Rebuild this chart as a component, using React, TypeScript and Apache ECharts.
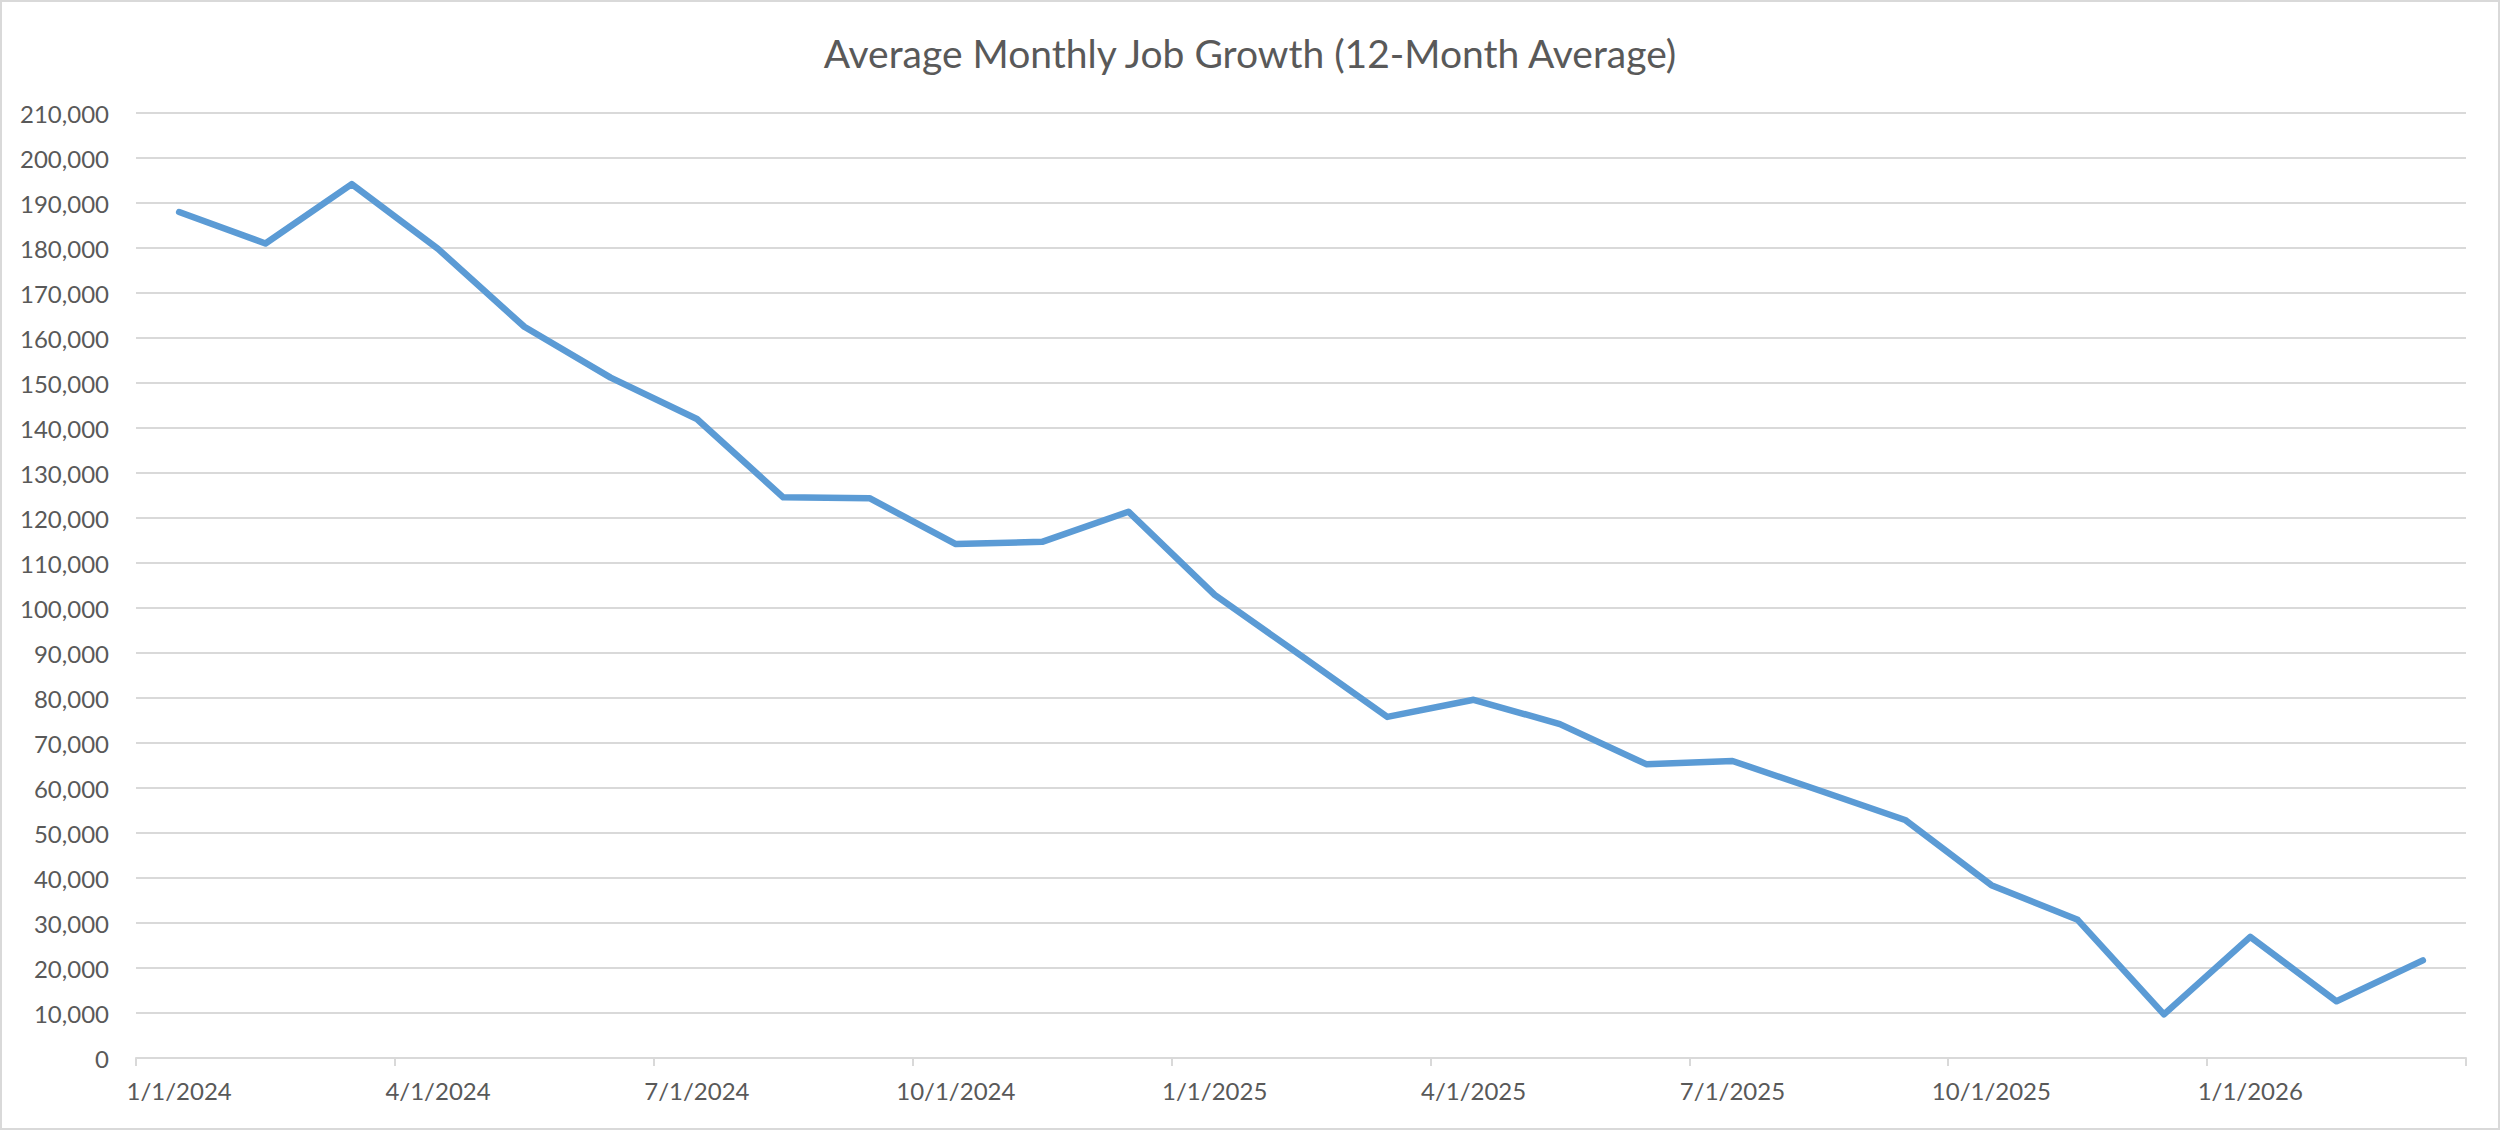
import React, { useEffect, useRef } from "react";
import * as echarts from "echarts";

const TITLE = "Average Monthly Job Growth (12-Month Average)";

const months = [
  "1/1/2024", "2/1/2024", "3/1/2024", "4/1/2024", "5/1/2024", "6/1/2024",
  "7/1/2024", "8/1/2024", "9/1/2024", "10/1/2024", "11/1/2024", "12/1/2024",
  "1/1/2025", "2/1/2025", "3/1/2025", "4/1/2025", "5/1/2025", "6/1/2025",
  "7/1/2025", "8/1/2025", "9/1/2025", "10/1/2025", "11/1/2025", "12/1/2025",
  "1/1/2026", "2/1/2026", "3/1/2026",
];

const jobGrowth = [
  188000, 181000, 194200, 179800, 162500, 151200,
  142000, 124600, 124400, 114200, 114700, 121400,
  102900, 89400, 75800, 79600, 74200, 65300,
  66000, 59500, 52900, 38400, 30700, 9700,
  26900, 12600, 21700,
];

const Y_MIN = 0;
const Y_MAX = 210000;
const Y_STEP = 10000;

const FONT = "Lato, 'Open Sans', sans-serif";
const TEXT_COLOR = "#595959";
const GRID_COLOR = "#d9d9d9";
const LINE_COLOR = "#5b9bd5";

export default function App() {
  const ref = useRef<HTMLDivElement>(null);

  useEffect(() => {
    document.body.style.margin = "0";
    if (!ref.current) return;
    const chart = echarts.init(ref.current, null, { renderer: "svg" });
    chart.setOption({
      animation: false,
      backgroundColor: "#ffffff",
      title: {
        text: TITLE,
        left: "center",
        top: 28,
        textStyle: {
          fontFamily: FONT,
          fontSize: 39,
          fontWeight: 400,
          color: TEXT_COLOR,
        },
      },
      graphic: [
        {
          type: "rect",
          shape: { x: 1, y: 1, width: 2498, height: 1128 },
          style: { fill: "none", stroke: GRID_COLOR, lineWidth: 2 },
          silent: true,
        },
      ],
      grid: { left: 136, right: 34, top: 113, bottom: 72, containLabel: false },
      xAxis: {
        type: "category",
        data: months,
        boundaryGap: true,
        axisLine: { show: true, lineStyle: { color: GRID_COLOR, width: 2 } },
        axisTick: {
          show: true,
          interval: 2,
          alignWithLabel: false,
          length: 8,
          lineStyle: { color: GRID_COLOR, width: 2 },
        },
        axisLabel: {
          interval: 2,
          margin: 20,
          fontFamily: FONT,
          fontSize: 24,
          color: TEXT_COLOR,
        },
        splitLine: { show: false },
      },
      yAxis: {
        type: "value",
        min: Y_MIN,
        max: Y_MAX,
        interval: Y_STEP,
        axisLine: { show: false },
        axisTick: { show: false },
        axisLabel: {
          margin: 27,
          fontFamily: FONT,
          fontSize: 24,
          color: TEXT_COLOR,
          formatter: (v: number) => v.toLocaleString("en-US"),
        },
        splitLine: { show: true, lineStyle: { color: GRID_COLOR, width: 2 } },
      },
      series: [
        {
          type: "line",
          data: jobGrowth,
          showSymbol: false,
          symbol: "none",
          lineStyle: { color: LINE_COLOR, width: 6.5, cap: "round", join: "round" },
          z: 3,
        },
      ],
    });
    return () => chart.dispose();
  }, []);

  return <div ref={ref} style={{ width: 2500, height: 1130 }} />;
}
